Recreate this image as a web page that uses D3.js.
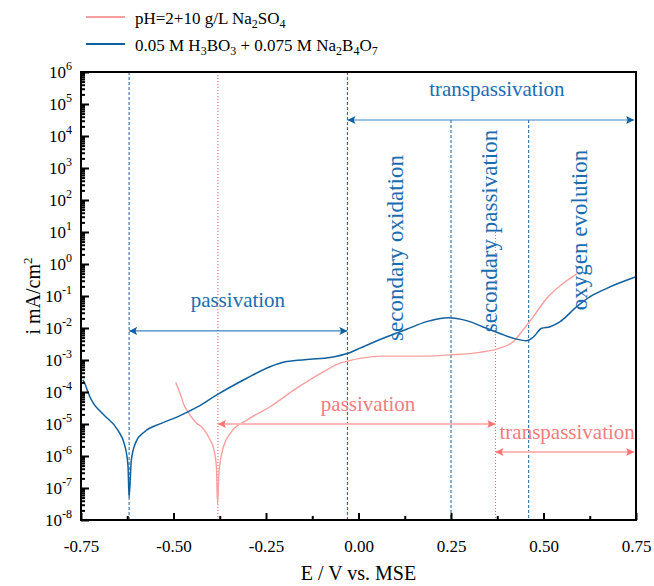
<!DOCTYPE html>
<html>
<head>
<meta charset="utf-8">
<script src="https://cdn.jsdelivr.net/npm/d3@7"></script>
<style>
  body { margin: 0; background: #fff; }
  svg text { font-family: "Liberation Serif", "Times New Roman", serif; }
</style>
</head>
<body>
<svg id="chart" width="654" height="586"></svg>
<script>

// Potential (V vs. MSE) and log10 of current density (mA/cm2)
const boraxE = [-0.745, -0.738, -0.732, -0.726, -0.715, -0.700, -0.686, -0.650, -0.632, -0.623, -0.620, -0.614,
    -0.601, -0.578, -0.533, -0.488, -0.434, -0.383, -0.302, -0.239, -0.194, -0.131, -0.077, -0.028, 0.004,
    0.067, 0.130, 0.184, 0.243, 0.292, 0.346, 0.382, 0.418, 0.455, 0.472, 0.495, 0.518, 0.545, 0.590,
    0.626, 0.671, 0.750];
const boraxLogI = [-3.62, -3.78, -3.98, -4.15, -4.38, -4.58, -4.74, -5.20, -5.66, -6.30, -7.29, -6.13,
    -5.55, -5.24, -4.98, -4.77, -4.46, -4.09, -3.57, -3.21, -3.05, -2.98, -2.92, -2.79, -2.63,
    -2.32, -2.04, -1.80, -1.68, -1.77, -2.01, -2.17, -2.32, -2.40, -2.29, -2.01, -1.96, -1.80, -1.33,
    -1.02, -0.76, -0.40];

const sulfateE = [-0.494, -0.479, -0.472, -0.461, -0.437, -0.425, -0.401, -0.393, -0.384, -0.381, -0.377,
    -0.365, -0.343, -0.302, -0.239, -0.167, -0.095, -0.050, -0.028, 0.004, 0.067, 0.175, 0.247, 0.328,
    0.382, 0.418, 0.445, 0.472, 0.509, 0.554, 0.590];
const sulfateLogI = [-3.70, -4.15, -4.40, -4.62, -4.98, -5.08, -5.50, -5.70, -6.33, -7.50, -6.50,
    -5.71, -5.24, -4.88, -4.46, -3.88, -3.37, -3.10, -3.03, -2.95, -2.88, -2.88, -2.84, -2.76,
    -2.63, -2.43, -2.06, -1.65, -1.07, -0.60, -0.31];

// Marker lines: potential and top (log10 i)
const blueMarkE = [-0.62, -0.03, 0.25, 0.46];
const blueMarkTop = [6, 6, 4.5, 4.5];
const pinkMarkE = [-0.38, 0.37];
const pinkMarkTop = [6, 1];

// Region arrows
const regionLabels = ["transpassivation", "passivation", "passivation", "transpassivation"];
const regionFrom = [-0.03, -0.62, -0.38, 0.37];
const regionTo = [0.745, -0.03, 0.37, 0.745];
const regionLogI = [4.5, -2.09, -5.0, -5.875];
const regionLabelE = [0.374, -0.326, 0.026, 0.564];
const regionSeries = ["borax", "borax", "sulfate", "sulfate"];

// Vertical region labels
const stageLabels = ["secondary oxidation", "secondary passivation", "oxygen evolution"];
const stageE = [0.1, 0.355, 0.598];

const xTicks = [-0.75, -0.5, -0.25, 0, 0.25, 0.5, 0.75];
const yDecades = d3.range(-8, 7);

const colours = {
    borax: "#10609f",
    boraxText: "#1a6cb0",
    sulfate: "#f8a0a0",
    sulfateText: "#f47c7c",
    sulfateArrow: "#ffb8b8",
    sulfateHead: "#fa7474"
};

const svg = d3.select("#chart");
const margin = {left: 81, right: 18, top: 72, bottom: 66};
const width = 654 - margin.left - margin.right,
      height = 586 - margin.top - margin.bottom;

const x = d3.scaleLinear().domain([-0.75, 0.75]).range([0, width]);
const y = d3.scaleLinear().domain([-8, 6]).range([height, 0]);

const g = svg.append("g").attr("transform", `translate(${margin.left},${margin.top})`);

// Arrow heads
const defs = svg.append("defs");
function marker(id, colour) {
    defs.append("marker")
        .attr("id", id)
        .attr("viewBox", "0 0 10 10")
        .attr("refX", 10).attr("refY", 5)
        .attr("markerUnits", "userSpaceOnUse")
        .attr("markerWidth", 14).attr("markerHeight", 8)
        .attr("orient", "auto-start-reverse")
        .append("path")
        .attr("d", "M0,0 L10,5 L0,10 L2,5 Z")
        .attr("fill", colour);
}
marker("headBorax", colours.borax);
marker("headSulfate", colours.sulfateHead);

// Marker lines
blueMarkE.forEach((e, i) => {
    g.append("line")
        .attr("x1", x(e)).attr("x2", x(e))
        .attr("y1", y(blueMarkTop[i])).attr("y2", height)
        .attr("stroke", colours.borax)
        .attr("stroke-width", 1)
        .attr("stroke-dasharray", "3,2");
});
pinkMarkE.forEach((e, i) => {
    g.append("line")
        .attr("x1", x(e)).attr("x2", x(e))
        .attr("y1", y(pinkMarkTop[i])).attr("y2", height)
        .attr("stroke", "#f25a5a")
        .attr("stroke-width", 1)
        .attr("stroke-dasharray", "1,2");
});

// Curves
const line = d3.line()
    .x((d) => x(d[0]))
    .y((d) => y(d[1]))
    .curve(d3.curveMonotoneX);

g.append("path")
    .datum(sulfateE.map((e, i) => [e, sulfateLogI[i]]))
    .attr("d", line)
    .attr("fill", "none")
    .attr("stroke", colours.sulfate)
    .attr("stroke-width", 1.4);

g.append("path")
    .datum(boraxE.map((e, i) => [e, boraxLogI[i]]))
    .attr("d", line)
    .attr("fill", "none")
    .attr("stroke", colours.borax)
    .attr("stroke-width", 1.5);

// Region arrows and labels
regionLabels.forEach((label, i) => {
    const isBorax = regionSeries[i] === "borax";
    const yy = y(regionLogI[i]);
    g.append("line")
        .attr("x1", x(regionFrom[i])).attr("x2", x(regionTo[i]))
        .attr("y1", yy).attr("y2", yy)
        .attr("stroke", isBorax ? "#3b82c2" : colours.sulfateArrow)
        .attr("stroke-width", isBorax ? 1.2 : 2)
        .attr("marker-start", `url(#${isBorax ? "headBorax" : "headSulfate"})`)
        .attr("marker-end", `url(#${isBorax ? "headBorax" : "headSulfate"})`);
    g.append("text")
        .attr("x", x(regionLabelE[i]))
        .attr("y", yy - (isBorax ? 24 : 13))
        .attr("text-anchor", "middle")
        .style("font-size", "21px")
        .attr("fill", isBorax ? colours.boraxText : colours.sulfateText)
        .text(label);
});

// Vertical stage labels
const stageMid = [248, 231, 230];
stageLabels.forEach((label, i) => {
    g.append("text")
        .attr("transform", `translate(${x(stageE[i]) + 7},${stageMid[i] - margin.top}) rotate(-90)`)
        .attr("text-anchor", "middle")
        .style("font-size", "23px")
        .attr("fill", colours.boraxText)
        .text(label);
});

// Axes: major and minor ticks in their own groups
const xAxis = g.append("g").attr("transform", `translate(0,${height})`)
    .call(d3.axisBottom(x).tickValues(xTicks).tickSize(-7).tickPadding(20)
        .tickFormat((d) => d.toFixed(2)));
g.append("g").attr("transform", `translate(0,${height})`)
    .call(d3.axisBottom(x).tickValues(d3.range(-0.625, 0.75, 0.25)).tickSize(-4).tickFormat(""));

g.append("g")
    .call(d3.axisLeft(y).tickValues(yDecades).tickSize(-8).tickFormat(""));
const minorY = [];
yDecades.slice(0, -1).forEach((d) => {
    for (let k = 2; k < 10; k++) minorY.push(d + Math.log10(k));
});
g.append("g")
    .call(d3.axisLeft(y).tickValues(minorY).tickSize(-4).tickFormat(""));

g.selectAll(".domain").remove();
g.selectAll(".tick line").attr("stroke", "#000").attr("stroke-width", 2);
xAxis.selectAll(".tick text")
    .style("font-size", "17px")
    .style("font-family", "Liberation Serif")
    .attr("fill", "#000");

// Decade labels with superscripts
yDecades.forEach((d) => {
    const t = g.append("text")
        .attr("x", -9)
        .attr("y", y(d) + 6)
        .attr("text-anchor", "end")
        .style("font-size", "17px")
        .attr("fill", "#000");
    t.append("tspan").text("10");
    t.append("tspan").attr("dy", -8).style("font-size", "12px").text(d);
});

// Frame
g.append("rect")
    .attr("width", width).attr("height", height)
    .attr("fill", "none")
    .attr("stroke", "#000")
    .attr("stroke-width", 2);

// Axis titles
svg.append("text")
    .attr("x", margin.left + width / 2)
    .attr("y", 580)
    .attr("text-anchor", "middle")
    .style("font-size", "20px")
    .text("E / V vs. MSE");

const yTitle = svg.append("text")
    .attr("transform", `translate(40,${margin.top + height / 2}) rotate(-90)`)
    .attr("text-anchor", "middle")
    .style("font-size", "20px");
yTitle.append("tspan").text("i mA/cm");
yTitle.append("tspan").attr("dy", -8).style("font-size", "13px").text("2");

// Legend
const legendItems = [
    {colour: colours.sulfate, parts: [["pH=2+10 g/L Na", 0], ["2", 1], ["SO", 0], ["4", 1]]},
    {colour: colours.borax, parts: [["0.05 M H", 0], ["3", 1], ["BO", 0], ["3", 1], [" + 0.075 M Na", 0],
        ["2", 1], ["B", 0], ["4", 1], ["O", 0], ["7", 1]]}
];
legendItems.forEach((item, i) => {
    const ly = 17 + i * 27;
    svg.append("line")
        .attr("x1", 86).attr("x2", 125)
        .attr("y1", ly).attr("y2", ly)
        .attr("stroke", item.colour)
        .attr("stroke-width", 2);
    const t = svg.append("text")
        .attr("x", 135).attr("y", ly + 7)
        .style("font-size", "17px");
    let sub = 0;
    item.parts.forEach(([s, isSub]) => {
        const dy = isSub ? (sub ? 0 : 4) : (sub ? -4 : 0);
        sub = isSub;
        t.append("tspan").attr("dy", dy)
            .style("font-size", isSub ? "12px" : "17px")
            .text(s);
    });
});
</script>
</body>
</html>
